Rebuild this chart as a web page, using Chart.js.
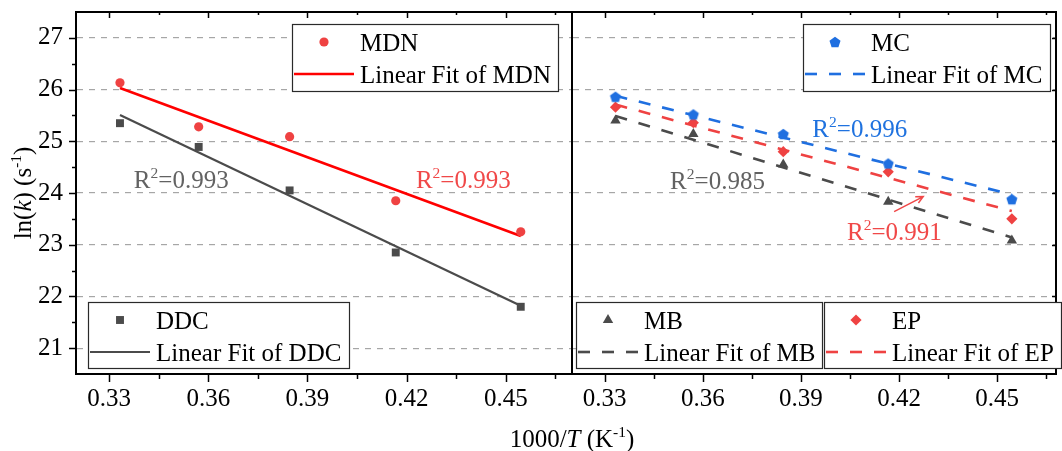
<!DOCTYPE html>
<html>
<head>
<meta charset="utf-8">
<script src="https://cdn.jsdelivr.net/npm/chart.js@4.4.1/dist/chart.umd.min.js"></script>
<style>
  html, body { margin: 0; padding: 0; background: #fff; }
  #wrap { position: relative; width: 1062px; height: 451px; overflow: hidden; }
  #cL { position: absolute; left: 0; top: 0; }
  #cR { position: absolute; left: 562px; top: 0; }
</style>
</head>
<body>
<div id="wrap">
  <canvas id="cL" width="1062" height="451"></canvas>
  <canvas id="cR" width="500" height="451"></canvas>
</div>
<script>
// ---- data: ln(k) against 1000/T (T = 3000 ... 2200 K) ----
const invT    = [0.3333, 0.3571, 0.3846, 0.4167, 0.4545];
const lnkMDN  = [26.13, 25.28, 25.09, 23.85, 23.25];
const lnkDDC  = [25.35, 24.89, 24.05, 22.85, 21.80];
const lnkMC   = [25.86, 25.52, 25.14, 24.57, 23.88];
const lnkEP   = [25.66, 25.36, 24.80, 24.41, 23.50];
const lnkMB   = [25.40, 25.14, 24.55, 23.83, 23.08];

// linear fits, evaluated at the first and last temperature
const fitX    = [0.3333, 0.4545];
const fitMDN  = [26.03, 23.17];
const fitDDC  = [25.51, 21.82];
const fitMC   = [25.88, 23.97];
const fitEP   = [25.71, 23.65];
const fitMB   = [25.49, 23.14];

const r2MDN = '0.993', r2DDC = '0.993', r2MC = '0.996', r2EP = '0.991', r2MB = '0.985';

// axis ticks
const xTicks = [0.33, 0.36, 0.39, 0.42, 0.45];
const xMinor = [0.345, 0.375, 0.405, 0.435, 0.465];
const yTicks = [21, 22, 23, 24, 25, 26, 27];
const yMinor = [21.5, 22.5, 23.5, 24.5, 25.5, 26.5];

// ---- styling ----
const FONT = '"Liberation Serif", "Times New Roman", serif';
const FS = 25;
const RED = '#ef4242', RED_LINE = '#ff0000', GRAY = '#4b4b4b', BLUE = '#1f6fe0';
const GRID = '#a6a6a6';
Chart.defaults.font.family = FONT;
Chart.defaults.font.size = FS;
Chart.defaults.color = '#000';

const pts = (xs, ys) => xs.map((x, i) => ({ x, y: ys[i] }));

function pentagonImage(r, color) {
  const c = document.createElement('canvas');
  const s = Math.ceil(2 * r + 2);
  c.width = c.height = s;
  const g = c.getContext('2d');
  g.fillStyle = color;
  g.beginPath();
  for (let k = 0; k < 5; k++) {
    const a = -Math.PI / 2 + k * 2 * Math.PI / 5;
    const px = s / 2 + r * Math.cos(a), py = s / 2 + r * Math.sin(a) + r * 0.1;
    k ? g.lineTo(px, py) : g.moveTo(px, py);
  }
  g.closePath();
  g.fill();
  return c;
}
const PENTA = pentagonImage(5.8, BLUE);

// text with italic / superscript runs
function richWidth(ctx, runs) {
  let w = 0;
  for (const r of runs) {
    ctx.font = (r.i ? 'italic ' : '') + (r.sup ? FS * 0.62 : FS) + 'px ' + FONT;
    w += ctx.measureText(r.t).width;
  }
  return w;
}
function drawRich(ctx, runs, x, y, color, align) {
  let cx = align === 'center' ? x - richWidth(ctx, runs) / 2 : x;
  ctx.save();
  ctx.fillStyle = color;
  ctx.textBaseline = 'alphabetic';
  ctx.textAlign = 'left';
  for (const r of runs) {
    ctx.font = (r.i ? 'italic ' : '') + (r.sup ? FS * 0.62 : FS) + 'px ' + FONT;
    ctx.fillText(r.t, cx, r.sup ? y - FS * 0.40 : y);
    cx += ctx.measureText(r.t).width;
  }
  ctx.restore();
}
const r2Runs = v => [{ t: 'R' }, { t: '2', sup: true }, { t: '=' + v }];

function drawMarker(ctx, style, x, y, r, color) {
  ctx.save();
  ctx.fillStyle = color;
  ctx.beginPath();
  if (style === 'circle') {
    ctx.arc(x, y, r, 0, Math.PI * 2);
  } else if (style === 'rect') {
    const h = Math.SQRT1_2 * r;
    ctx.rect(x - h, y - h, 2 * h, 2 * h);
  } else if (style === 'triangle') {
    ctx.moveTo(x, y - r);
    ctx.lineTo(x + r * Math.sin(Math.PI / 3), y + r / 2);
    ctx.lineTo(x - r * Math.sin(Math.PI / 3), y + r / 2);
    ctx.closePath();
  } else if (style === 'rectRot') {
    ctx.moveTo(x, y - r); ctx.lineTo(x + r, y); ctx.lineTo(x, y + r); ctx.lineTo(x - r, y);
    ctx.closePath();
  } else if (style === 'penta') {
    ctx.drawImage(PENTA, x - PENTA.width / 2, y - PENTA.height / 2);
  }
  ctx.fill();
  ctx.restore();
}

// framed legend with a symbol row and a fit-line row
function drawLegend(ctx, L) {
  ctx.save();
  ctx.fillStyle = '#fff';
  ctx.fillRect(L.x, L.y, L.w, L.h);
  ctx.strokeStyle = '#2a2a2a';
  ctx.lineWidth = 1.2;
  ctx.strokeRect(L.x + 0.5, L.y + 0.5, L.w, L.h);
  drawMarker(ctx, L.marker, L.x + 32, L.y + 18, L.r, L.color);
  ctx.fillStyle = '#000';
  ctx.font = FS + 'px ' + FONT;
  ctx.textBaseline = 'alphabetic';
  ctx.fillText(L.name, L.x + 68, L.y + 26.5);
  ctx.strokeStyle = L.lineColor;
  ctx.lineWidth = L.lineWidth;
  ctx.setLineDash(L.dash || []);
  ctx.beginPath();
  ctx.moveTo(L.x + 2, L.y + 50);
  ctx.lineTo(L.x + 62, L.y + 50);
  ctx.stroke();
  ctx.setLineDash([]);
  ctx.fillText('Linear Fit of ' + L.name, L.x + 68, L.y + 58.5);
  ctx.restore();
}

// inner / outer tick marks on every side of a panel
function drawTicks(chart, sides) {
  const { ctx, chartArea: a, scales: { x, y } } = chart;
  ctx.save();
  ctx.strokeStyle = '#000';
  ctx.lineWidth = 1.5;
  const seg = (x1, y1, x2, y2) => { ctx.beginPath(); ctx.moveTo(x1, y1); ctx.lineTo(x2, y2); ctx.stroke(); };
  const inX = v => v >= x.min && v <= x.max;
  for (const v of xTicks) if (inX(v)) {
    const px = Math.round(x.getPixelForValue(v)) + 0.5;
    seg(px, a.bottom, px, a.bottom + 8);
    seg(px, a.top, px, a.top + 6);
  }
  for (const v of xMinor) if (inX(v)) {
    const px = Math.round(x.getPixelForValue(v)) + 0.5;
    seg(px, a.bottom, px, a.bottom + 5);
    seg(px, a.top, px, a.top + 3);
  }
  if (sides.left) {
    for (const v of yTicks) { const py = Math.round(y.getPixelForValue(v)) + 0.5; seg(a.left - 7, py, a.left, py); }
    for (const v of yMinor) { const py = Math.round(y.getPixelForValue(v)) + 0.5; seg(a.left - 4, py, a.left, py); }
  }
  if (sides.right) {
    for (const v of yTicks) { const py = Math.round(y.getPixelForValue(v)) + 0.5; seg(a.right - 4, py, a.right, py); }
  }
  // frame lines on top (and right)
  ctx.lineWidth = 2;
  seg(a.left, a.top, a.right + (sides.right ? 1 : 0), a.top);
  if (sides.right) seg(a.right, a.top, a.right, a.bottom);
  ctx.restore();
}

function drawArrow(ctx, x1, y1, x2, y2, color) {
  const ang = Math.atan2(y2 - y1, x2 - x1), h = 8;
  ctx.save();
  ctx.strokeStyle = color;
  ctx.lineWidth = 1.5;
  ctx.beginPath();
  ctx.moveTo(x1, y1); ctx.lineTo(x2, y2);
  ctx.moveTo(x2 - h * Math.cos(ang - 0.45), y2 - h * Math.sin(ang - 0.45));
  ctx.lineTo(x2, y2);
  ctx.lineTo(x2 - h * Math.cos(ang + 0.45), y2 - h * Math.sin(ang + 0.45));
  ctx.stroke();
  ctx.restore();
}

// fixed axis boxes, so both panels share the same plot-area geometry
function fixBox(prop, size) {
  return s => {
    s[prop] = size;
    s.paddingTop = 0; s.paddingBottom = 0; s.paddingLeft = 0; s.paddingRight = 0;
  };
}

function xScale(max) {
  return {
    type: 'linear', position: 'bottom', min: 0.32, max,
    afterBuildTicks: s => { s.ticks = xTicks.map(v => ({ value: v })); },
    afterFit: fixBox('height', 77),
    grid: { display: false, drawTicks: false },
    border: { display: true, color: '#000', width: 2 },
    ticks: { padding: 10, color: '#000', maxRotation: 0, autoSkip: false,
             font: { size: FS, family: FONT }, callback: v => v.toFixed(2) }
  };
}
function yScale(width, showLabels) {
  return {
    type: 'linear', position: 'left', min: 20.5, max: 27.5,
    afterBuildTicks: s => { s.ticks = yTicks.map(v => ({ value: v })); },
    afterFit: fixBox('width', width),
    grid: { display: true, color: GRID, lineWidth: 1.2, drawTicks: false },
    border: { display: true, color: '#000', width: 2, dash: [6, 6] },
    ticks: { display: showLabels, padding: 13, color: '#000',
             font: { size: FS, family: FONT }, callback: v => String(v) }
  };
}

const baseOpts = {
  responsive: false,
  animation: false,
  devicePixelRatio: 1,
  plugins: { legend: { display: false }, tooltip: { enabled: false } },
  elements: { line: { tension: 0 } }
};

// ---- left panel: MDN and DDC ----
new Chart(document.getElementById('cL'), {
  type: 'scatter',
  data: {
    datasets: [
      { label: 'MDN', data: pts(invT, lnkMDN), pointStyle: 'circle', pointRadius: 4.6,
        backgroundColor: RED, borderWidth: 0, order: 0 },
      { label: 'DDC', data: pts(invT, lnkDDC), pointStyle: 'rect', pointRadius: 5.6,
        backgroundColor: GRAY, borderWidth: 0, order: 0 },
      { label: 'Linear Fit of MDN', data: pts(fitX, fitMDN), showLine: true, pointRadius: 0,
        borderColor: RED_LINE, borderWidth: 2.6, order: 1 },
      { label: 'Linear Fit of DDC', data: pts(fitX, fitDDC), showLine: true, pointRadius: 0,
        borderColor: GRAY, borderWidth: 2.2, order: 1 }
    ]
  },
  options: Object.assign({}, baseOpts, {
    layout: { padding: { left: 0, top: 12, right: 490, bottom: 0 } },
    scales: { x: xScale(0.47), y: yScale(76, true) }
  }),
  plugins: [{
    id: 'leftDecor',
    afterDraw(chart) {
      const { ctx, chartArea: a, scales: { x, y } } = chart;
      drawTicks(chart, { left: true });
      drawRich(ctx, r2Runs(r2DDC), x.getPixelForValue(0.3375), y.getPixelForValue(24.10), '#626262');
      drawRich(ctx, r2Runs(r2MDN), x.getPixelForValue(0.4228), y.getPixelForValue(24.10), '#f04848');
      drawLegend(ctx, { x: a.right - 280, y: a.top + 12, w: 266, h: 67, marker: 'circle', r: 4.6,
        color: RED, name: 'MDN', lineColor: RED_LINE, lineWidth: 2.6 });
      drawLegend(ctx, { x: a.left + 12, y: a.bottom - 72, w: 261, h: 66, marker: 'rect', r: 5.6,
        color: GRAY, name: 'DDC', lineColor: GRAY, lineWidth: 2.2 });
      // axis titles
      drawRich(ctx, [{ t: '1000/' }, { t: 'T', i: true }, { t: ' (K' }, { t: '-1', sup: true }, { t: ')' }],
        a.right, 447, '#000', 'center');
      ctx.save();
      ctx.translate(19, (a.top + a.bottom) / 2);
      ctx.rotate(-Math.PI / 2);
      drawRich(ctx, [{ t: 'ln(' }, { t: 'k', i: true }, { t: ') (s' }, { t: '-1', sup: true }, { t: ')' }],
        0, 12, '#000', 'center');
      ctx.restore();
    }
  }]
});

// ---- right panel: MC, MB and EP ----
new Chart(document.getElementById('cR'), {
  type: 'scatter',
  data: {
    datasets: [
      { label: 'MC', data: pts(invT, lnkMC), pointStyle: PENTA, pointRadius: 6,
        backgroundColor: BLUE, borderWidth: 0, order: 0 },
      { label: 'EP', data: pts(invT, lnkEP), pointStyle: 'rectRot', pointRadius: 5.6,
        backgroundColor: RED, borderWidth: 0, order: 0 },
      { label: 'MB', data: pts(invT, lnkMB), pointStyle: 'triangle', pointRadius: 6,
        backgroundColor: GRAY, borderWidth: 0, order: 0 },
      { label: 'Linear Fit of MC', data: pts(fitX, fitMC), showLine: true, pointRadius: 0,
        borderColor: BLUE, borderWidth: 2.6, borderDash: [12, 12], order: 1 },
      { label: 'Linear Fit of EP', data: pts(fitX, fitEP), showLine: true, pointRadius: 0,
        borderColor: RED, borderWidth: 2.6, borderDash: [12, 12], order: 1 },
      { label: 'Linear Fit of MB', data: pts(fitX, fitMB), showLine: true, pointRadius: 0,
        borderColor: GRAY, borderWidth: 2.6, borderDash: [12, 12], order: 1 }
    ]
  },
  options: Object.assign({}, baseOpts, {
    layout: { padding: { left: 0, top: 12, right: 1, bottom: 0 } },
    scales: { x: xScale(0.468), y: yScale(10, false) }
  }),
  plugins: [{
    id: 'rightDecor',
    afterDraw(chart) {
      const { ctx, chartArea: a, scales: { x, y } } = chart;
      drawTicks(chart, { right: true });
      drawRich(ctx, r2Runs(r2MC), x.getPixelForValue(0.3935), y.getPixelForValue(25.08), '#1f72df');
      drawRich(ctx, r2Runs(r2MB), x.getPixelForValue(0.3500), y.getPixelForValue(24.08), '#626262');
      drawRich(ctx, r2Runs(r2EP), x.getPixelForValue(0.4041), y.getPixelForValue(23.09), '#f04848');
      drawArrow(ctx, x.getPixelForValue(0.4185), y.getPixelForValue(23.64),
                     x.getPixelForValue(0.4274), y.getPixelForValue(23.93), '#f04848');
      drawLegend(ctx, { x: a.right - 253, y: a.top + 12, w: 247, h: 67, marker: 'penta', r: 6,
        color: BLUE, name: 'MC', lineColor: BLUE, lineWidth: 2.6, dash: [12, 12] });
      drawLegend(ctx, { x: a.left + 4, y: a.bottom - 72, w: 246, h: 66, marker: 'triangle', r: 6,
        color: GRAY, name: 'MB', lineColor: GRAY, lineWidth: 2.6, dash: [12, 12] });
      drawLegend(ctx, { x: a.left + 252, y: a.bottom - 72, w: 237, h: 66, marker: 'rectRot', r: 5.6,
        color: RED, name: 'EP', lineColor: RED, lineWidth: 2.6, dash: [12, 12] });
    }
  }]
});
</script>
</body>
</html>
